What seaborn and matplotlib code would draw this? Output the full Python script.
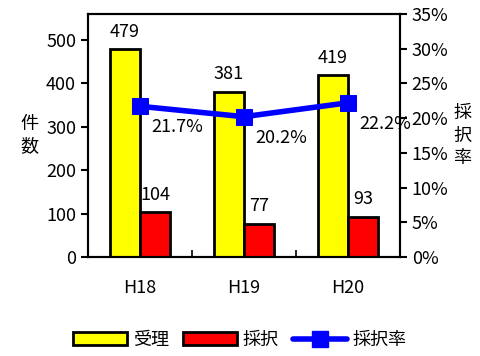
import matplotlib
matplotlib.use("Agg")
import matplotlib.pyplot as plt
import seaborn as sns
import pandas as pd
from matplotlib.ticker import FuncFormatter, FixedLocator
from matplotlib.patches import Patch
from matplotlib.lines import Line2D

years = ["H18", "H19", "H20"]
accepted = [479, 381, 419]      # 受理
adopted = [104, 77, 93]         # 採択
rate = [21.7, 20.2, 22.2]       # 採択率 (%)

sns.set_style("ticks")
plt.rcParams["font.family"] = ["Noto Sans CJK JP", "DejaVu Sans"]
plt.rcParams["axes.linewidth"] = 1.5
for key in ("text.color", "axes.labelcolor", "xtick.color", "ytick.color",
            "axes.edgecolor"):
    plt.rcParams[key] = "black"

df = pd.DataFrame({
    "year": years * 2,
    "count": accepted + adopted,
    "kind": ["受理"] * 3 + ["採択"] * 3,
})

fig = plt.figure(figsize=(4.8, 3.56), dpi=100)
ax = fig.add_axes([0.183, 0.278, 0.650, 0.683])

sns.barplot(data=df, x="year", y="count", hue="kind", order=years,
            hue_order=["受理", "採択"], palette=["#FFFF00", "#FF0000"],
            saturation=1, width=0.58, edgecolor="black", linewidth=2,
            ax=ax, legend=False)

for cont in ax.containers:
    ax.bar_label(cont, fmt="%d", padding=6, fontsize=13)

ax.set_xlim(-0.5, 2.5)
ax.set_ylim(0, 560)
ax.set_yticks([0, 100, 200, 300, 400, 500])
ax.tick_params(axis="y", labelsize=13, length=5, width=1.5, direction="out")
ax.tick_params(axis="x", which="major", length=0, labelsize=13, pad=16)
ax.xaxis.set_minor_locator(FixedLocator([0.5, 1.5]))
ax.tick_params(axis="x", which="minor", length=5, width=1.2, direction="in")
ax.set_xlabel("")
ax.set_ylabel("件\n数", rotation=0, fontsize=13, labelpad=12, va="center",
              linespacing=1.3)

ax2 = ax.twinx()
sns.lineplot(x=[0, 1, 2], y=rate, ax=ax2, color="#0000FF", linewidth=4,
             marker="s", markersize=12, markeredgecolor="#0000FF")
ax2.set_ylim(0, 35)
ax2.set_yticks(range(0, 36, 5))
ax2.yaxis.set_major_formatter(FuncFormatter(lambda v, p: f"{int(v)}%"))
ax2.tick_params(axis="y", labelsize=13, length=5, width=1.5, direction="out")
ax2.set_ylabel("採\n択\n率", rotation=0, fontsize=13, labelpad=10,
               va="center", linespacing=1.3)
for i, r in enumerate(rate):
    ax2.annotate(f"{r}%", (i, r), xytext=(8, -15), textcoords="offset points",
                 ha="left", va="center", fontsize=13)

for a in (ax, ax2):
    for s in a.spines.values():
        s.set_visible(True)
        s.set_linewidth(1.5)
        s.set_color("black")

handles = [
    Patch(facecolor="#FFFF00", edgecolor="black", linewidth=2, label="受理"),
    Patch(facecolor="#FF0000", edgecolor="black", linewidth=2, label="採択"),
    Line2D([0], [0], color="#0000FF", linewidth=4, marker="s", markersize=11,
           label="採択率"),
]
fig.legend(handles=handles, loc="center", bbox_to_anchor=(0.5, 0.045), ncol=3,
           frameon=False, fontsize=13, handlelength=3.0, handleheight=0.7,
           handletextpad=0.3, columnspacing=0.8)

fig.savefig("out.png", dpi=100)
